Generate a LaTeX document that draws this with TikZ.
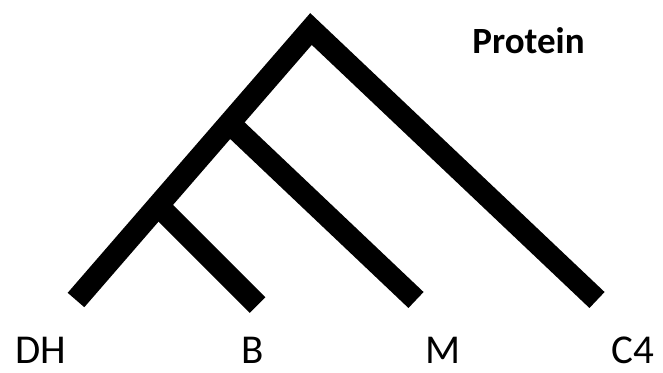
\documentclass[tikz,border=0pt]{standalone}
\usepackage{fontspec}
\setmainfont{Carlito}
\begin{document}
\begin{tikzpicture}[x=1pt,y=-1pt,
  branch/.style={line width=22pt,line join=miter,line cap=butt,draw=black},
  leaf/.style={font=\fontsize{41}{41}\selectfont,anchor=base,inner sep=0pt},
  title/.style={font=\bfseries\fontsize{37}{37}\selectfont,anchor=base,inner sep=0pt}]
\useasboundingbox (0,0) rectangle (663,372);
\coordinate (apex) at (311,29);
\coordinate (dhend) at (76,300);
\coordinate (c4end) at (597,300);
\coordinate (mend) at (416,300);
\coordinate (bend) at (257.5,305);
\coordinate (jm) at (229.4,123.1);
\coordinate (jb) at (158,205.5);
\draw[branch] (dhend) -- (apex) -- (c4end);
\draw[branch] (jm) -- (mend);
\draw[branch] (jb) -- (bend);
\node[leaf] (dh) at (41,363) {DH};
\node[leaf] (b) at (253,363) {B};
\node[leaf] (m) at (443.5,363) {M};
\node[leaf] (c4) at (632.5,363) {C4};
\node[title] (protein) at (528.5,53) {Protein};
\end{tikzpicture}
\end{document}
